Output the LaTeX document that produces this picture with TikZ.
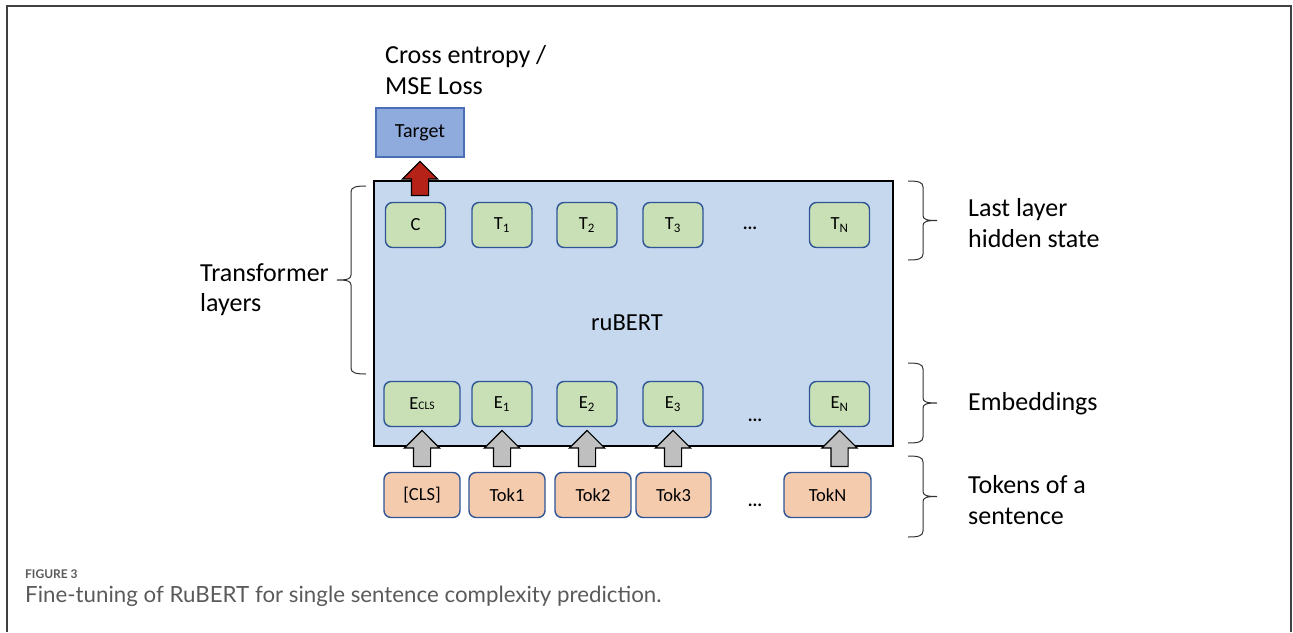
\documentclass[tikz,border=0pt]{standalone}
\usepackage{fontspec}
\setmainfont{Carlito}
\newfontfamily\capfont{Lato}
\usetikzlibrary{shapes.arrows,calc}
\definecolor{boxblue}{HTML}{C5D8EE}
\definecolor{cellgreen}{HTML}{C9E0B6}
\definecolor{nodeblue}{HTML}{2F5597}
\definecolor{tokorange}{HTML}{F5CBAE}
\definecolor{tgtfill}{HTML}{8FAADC}
\definecolor{tgtdraw}{HTML}{4A6FB5}
\definecolor{redarrow}{HTML}{B52218}
\definecolor{grayarrow}{HTML}{BFBFBF}
\definecolor{captext}{HTML}{5A5A5A}
% #1 hook x, #2 top y, #3 bottom y, #4 direction (1 = tip right, -1 = tip left)
\newcommand\mybrace[4]{%
\draw[bracestyle] (#1,#2) .. controls ({#1+(#4)*10},#2) and ({#1+(#4)*15},{#2+1}) .. ({#1+(#4)*15},{#2+6})
  -- ({#1+(#4)*15},{(#2+#3)/2-5}) .. controls ({#1+(#4)*15},{(#2+#3)/2-1}) and ({#1+(#4)*19},{(#2+#3)/2}) .. ({#1+(#4)*29},{(#2+#3)/2})
  .. controls ({#1+(#4)*19},{(#2+#3)/2}) and ({#1+(#4)*15},{(#2+#3)/2+1}) .. ({#1+(#4)*15},{(#2+#3)/2+5})
  -- ({#1+(#4)*15},{#3-6}) .. controls ({#1+(#4)*15},{#3-1}) and ({#1+(#4)*10},#3) .. (#1,#3);}
\begin{document}
\begin{tikzpicture}[x=1pt,y=-1pt,
  lbl/.style={inner sep=0pt, anchor=base west, font=\fontsize{26}{26}\selectfont},
  cell/.style={draw=nodeblue, line width=1.4pt, rounded corners=7pt, minimum height=45pt, inner sep=0pt, font=\fontsize{18.5}{18.5}\selectfont},
  gcell/.style={cell, fill=cellgreen, minimum width=60pt},
  tcell/.style={cell, fill=tokorange, minimum width=76pt},
  dots/.style={inner sep=0pt, font=\bfseries\fontsize{18}{18}\selectfont},
  blockarr/.style={shape=single arrow, rotate=90, anchor=tail, inner sep=8pt, single arrow head extend=9pt, draw=black, line width=1.2pt},
  bracestyle/.style={draw=black!80, line width=1pt}
]
\useasboundingbox (0,0) rectangle (1293,632);
% frame
\draw[black!75, line width=1.3pt] (7,632) -- (7,6) -- (1291,6) -- (1291,632);

% main box
\node[draw=black, line width=2.4pt, fill=boxblue, minimum width=519pt, minimum height=265pt, inner sep=0pt] (bert) at (633.5,313.5) {};
\node[inner sep=0pt, anchor=base, font=\fontsize{24.5}{24.5}\selectfont] (bertlbl) at (627,330) {ruBERT};

% last layer hidden states
\node[gcell] (c)  at (415.5,225) {C};
\node[gcell] (t1) at (502,225) {T\textsubscript{1}};
\node[gcell] (t2) at (587,225) {T\textsubscript{2}};
\node[gcell] (t3) at (673,225) {T\textsubscript{3}};
\node[dots] (td) at (750,228) {...};
\node[gcell] (tn) at (839.5,225) {T\textsubscript{N}};

% embeddings
\node[gcell, minimum width=76pt] (e0) at (422,404) {E{\fontsize{11.5}{11.5}\selectfont CLS}};
\node[gcell] (e1) at (502,404) {E\textsubscript{1}};
\node[gcell] (e2) at (587,404) {E\textsubscript{2}};
\node[gcell] (e3) at (673,404) {E\textsubscript{3}};
\node[dots] (ed) at (755,420) {...};
\node[gcell] (en) at (839.5,404) {E\textsubscript{N}};

% tokens
\node[tcell] (k0) at (422,495) {[CLS]};
\node[tcell] (k1) at (507,495) {Tok1};
\node[tcell] (k2) at (593,495) {Tok2};
\node[tcell, minimum width=75pt] (k3) at (673.5,495) {Tok3};
\node[dots] (kd) at (755,505) {...};
\node[tcell, minimum width=87pt] (kn) at (827.5,495) {TokN};

% target
\node[draw=tgtdraw, line width=1.4pt, fill=tgtfill, minimum width=88pt, minimum height=49pt, inner sep=0pt, font=\fontsize{20}{20}\selectfont] (target) at (420,132.5) {Target};
\node[lbl] (loss1) at (385,63) {Cross entropy /};
\node[lbl] (loss2) at (385,94) {MSE Loss};

% arrows
\coordinate (ry) at (0,196);
\coordinate (gy) at (0,467);
\node[blockarr, fill=redarrow, minimum height=34pt] (ra) at (target |- ry) {};
\foreach \n in {e0,e1,e2,e3,en}{
  \node[blockarr, fill=grayarrow, minimum height=36pt] (ga\n) at (\n |- gy) {};
}

% braces
\mybrace{366}{186}{374}{-1}
\mybrace{908}{181}{260}{1}
\mybrace{908}{363}{443}{1}
\mybrace{908}{456}{537}{1}

% side labels
\node[lbl] (tl1) at (200,281) {Transformer};
\node[lbl] (tl2) at (200,311) {layers};
\node[lbl] (ll1) at (968,216) {Last layer};
\node[lbl] (ll2) at (968,247) {hidden state};
\node[lbl] (emb) at (968,410) {Embeddings};
\node[lbl] (tk1) at (968,493) {Tokens of a};
\node[lbl] (tk2) at (968,524) {sentence};

% caption
\node[inner sep=0pt, anchor=base west, text=captext, font=\capfont\bfseries\fontsize{12}{12}\selectfont] (fig) at (25,578) {FIGURE 3};
\node[inner sep=0pt, anchor=base west, text=captext, font=\capfont\fontsize{22.3}{22.3}\selectfont] (cap) at (25,602) {Fine-tuning of RuBERT for single sentence complexity prediction.};
\end{tikzpicture}
\end{document}
